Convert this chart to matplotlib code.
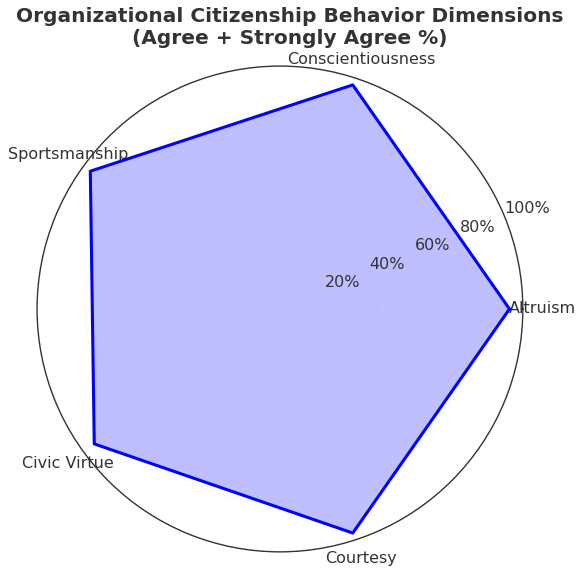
import numpy as np
import matplotlib.pyplot as plt

# Agree + Strongly Agree percentages per dimension
categories = ['Altruism', 'Conscientiousness', 'Sportsmanship', 'Civic Virtue', 'Courtesy']
values = [94.5, 97.0, 96.5, 94.5, 97.0]
r_ticks = [20, 40, 60, 80, 100]
r_tick_labels = ['20%', '40%', '60%', '80%', '100%']

n = len(categories)
angles = np.linspace(0, 2 * np.pi, n, endpoint=False).tolist()
vals = values + values[:1]
angs = angles + angles[:1]

fig = plt.figure(figsize=(5.79, 5.69), dpi=100)
ax = fig.add_axes([0.064, 0.03, 0.839, 0.854], polar=True)

ax.plot(angs, vals, color='blue', linewidth=2.2)
ax.fill(angs, vals, color='blue', alpha=0.25)

ax.set_ylim(0, 100)
ax.set_xticks(angles)
ax.set_xticklabels(categories, fontsize=11.5, color='#333333')
ax.tick_params(axis='x', pad=3.5)
ax.set_yticks(r_ticks)
ax.set_yticklabels(r_tick_labels, fontsize=11.5, color='#333333')
ax.set_rlabel_position(22.5)
# grid is barely visible in the original
ax.grid(color='#999999', linewidth=0.6, alpha=0.08)
ax.spines['polar'].set_color('#333333')
ax.spines['polar'].set_linewidth(1.0)

fig.suptitle('Organizational Citizenship Behavior Dimensions\n(Agree + Strongly Agree %)',
             fontsize=14.5, fontweight='bold', color='#333333', y=0.988)

plt.savefig('out.png', dpi=100)
plt.close()
